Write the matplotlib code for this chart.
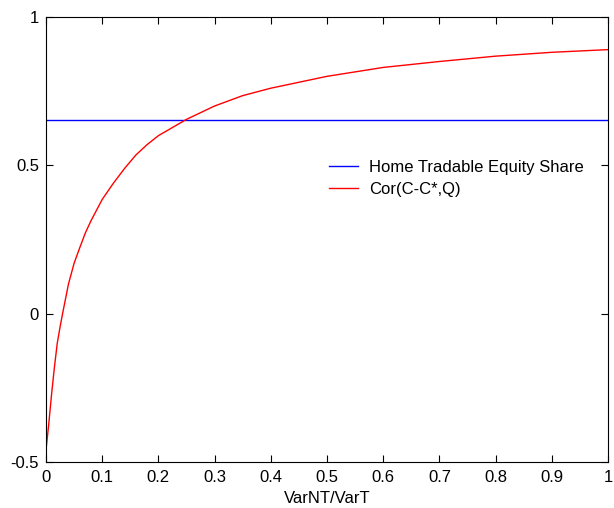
import matplotlib.pyplot as plt

# values
var_ratio = [0, 0.005, 0.01, 0.015, 0.02, 0.025, 0.03, 0.04, 0.05, 0.06, 0.07, 0.08,
             0.10, 0.12, 0.14, 0.16, 0.18, 0.20, 0.25, 0.30, 0.35, 0.40, 0.45, 0.50,
             0.60, 0.70, 0.80, 0.90, 1.00]
cor_cq = [-0.46, -0.37, -0.27, -0.18, -0.10, -0.045, 0.005, 0.10, 0.17, 0.222, 0.272, 0.313,
          0.385, 0.44, 0.49, 0.535, 0.57, 0.60, 0.655, 0.70, 0.735, 0.76, 0.78, 0.80,
          0.83, 0.85, 0.868, 0.881, 0.89]
equity_share = 0.653

plt.rcParams['font.family'] = ['Liberation Sans', 'DejaVu Sans']
plt.rcParams['font.size'] = 12

fig = plt.figure(figsize=(6.14, 5.08), dpi=100)
ax = fig.add_axes([46 / 614, 46 / 508, 562 / 614, 445 / 508])

ax.plot([0, 1], [equity_share, equity_share], color='blue', lw=1, label='Home Tradable Equity Share')
ax.plot(var_ratio, cor_cq, color='red', lw=1, label='Cor(C-C*,Q)')

ax.set_xlim(0, 1)
ax.set_ylim(-0.5, 1)
ax.set_xticks([0, 0.1, 0.2, 0.3, 0.4, 0.5, 0.6, 0.7, 0.8, 0.9, 1])
ax.set_xticklabels(['0', '0.1', '0.2', '0.3', '0.4', '0.5', '0.6', '0.7', '0.8', '0.9', '1'])
ax.set_yticks([-0.5, 0, 0.5, 1])
ax.set_yticklabels(['-0.5', '0', '0.5', '1'])
ax.tick_params(direction='in', top=True, right=True, length=5)
ax.tick_params(axis='x', pad=6)
ax.tick_params(axis='y', pad=5)
ax.set_xlabel('VarNT/VarT', labelpad=4)

ax.legend(loc='upper left', bbox_to_anchor=(0.476, 0.713), frameon=False,
          handlelength=1.75, handletextpad=0.66, labelspacing=0.45)

fig.savefig('out.png', dpi=100)
